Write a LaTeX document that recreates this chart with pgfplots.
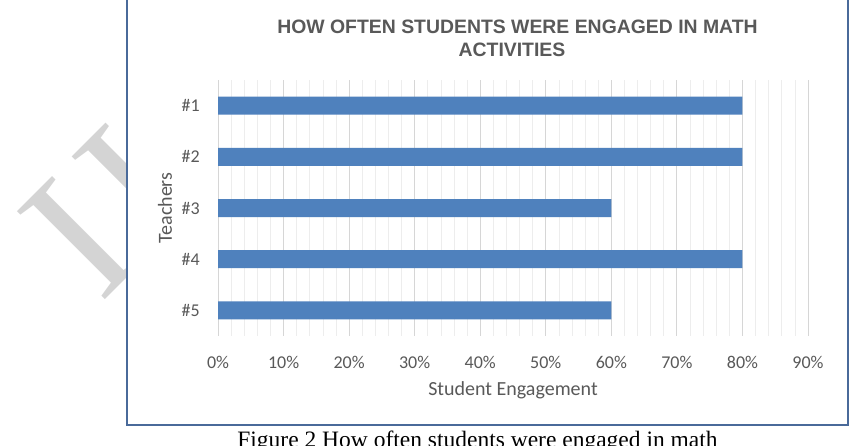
\documentclass[border=0pt]{standalone}
\usepackage{pgfplots}
\pgfplotsset{compat=1.18}
\usepackage{fontspec}
\setmainfont{Carlito}
\newfontfamily\titlefont{Liberation Sans}
\newfontfamily\capfont{Liberation Serif}
\definecolor{barblue}{HTML}{4F81BD}
\definecolor{txtgray}{HTML}{595959}
\definecolor{framecol}{HTML}{4A6A9A}
\begin{document}
\begin{tikzpicture}[x=1pt,y=1pt]
\useasboundingbox (0,0) rectangle (851,445);
\clip (0,0) rectangle (851,445);
% watermark
\node[rotate=45, text=black!17, font=\capfont\fontsize{190}{190}\selectfont, anchor=base west, inner sep=0pt] at (100,140) {IJ};
\fill[white] (127,20) rectangle (848,450);
\draw[framecol, line width=2pt] (127,450) -- (127,20) -- (848,20) -- (848,450);
% title
\node[anchor=base, text=txtgray, font=\titlefont\bfseries\fontsize{19.4}{22}\selectfont, inner sep=0pt] at (517.5,411) {HOW OFTEN STUDENTS WERE ENGAGED IN MATH};
\node[anchor=base, text=txtgray, font=\titlefont\bfseries\fontsize{19.4}{22}\selectfont, inner sep=0pt] at (512,388.3) {ACTIVITIES};
% caption
\node[anchor=base, text=black, font=\capfont\fontsize{23.5}{26}\selectfont, inner sep=0pt] at (477.5,-2.6) {Figure 2 How often students were engaged in math};
\begin{axis}[
  at={(218pt,109pt)}, anchor=south west,
  scale only axis, width=590pt, height=256pt,
  xmin=0, xmax=90, ymin=0.5, ymax=5.5, y dir=reverse,
  xbar, bar width=18pt,
  xtick={0,10,...,90}, minor x tick num=4,
  xticklabels={0\%,10\%,20\%,30\%,40\%,50\%,60\%,70\%,80\%,90\%},
  ytick={1,2,3,4,5}, yticklabels={\#1,\#2,\#3,\#4,\#5},
  xmajorgrids, xminorgrids,
  major grid style={color=black!16, line width=0.9pt},
  minor grid style={color=black!7, line width=0.7pt},
  axis line style={draw=none},
  major tick length=0pt, minor tick length=0pt,
  /pgf/number format/assume math mode=true,
  tick label style={font=\fontsize{18}{20}\selectfont, text=txtgray},
  xticklabel style={anchor=center, yshift=-26pt},
  yticklabel style={anchor=east, inner sep=0pt, xshift=-18pt},
  xlabel={Student Engagement}, ylabel={Teachers},
  label style={font=\fontsize{20}{22}\selectfont, text=txtgray},
  xlabel style={at={(axis description cs:0.5,0)}, anchor=center, yshift=-54pt},
  ylabel style={at={(axis description cs:0,0.5)}, anchor=center, inner sep=0pt, yshift=53pt},
]
\addplot[fill=barblue, draw=none] coordinates {(80,1) (80,2) (60,3) (80,4) (60,5)};
\end{axis}
\end{tikzpicture}
\end{document}
